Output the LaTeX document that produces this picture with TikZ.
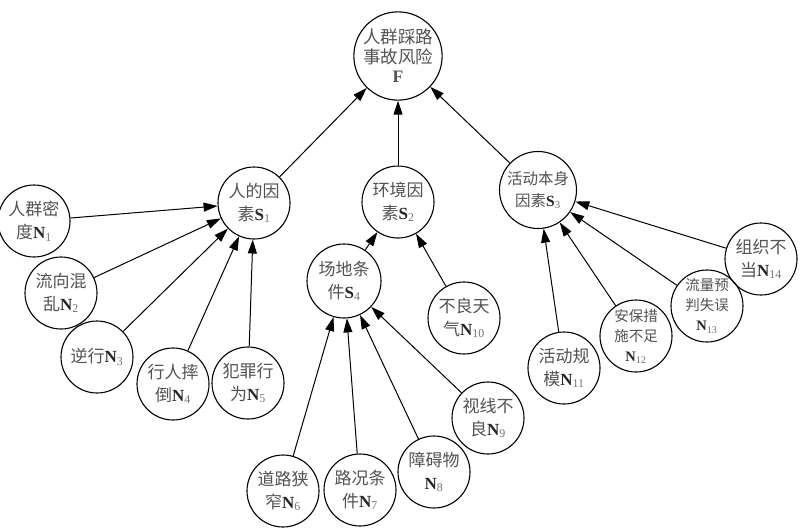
\documentclass[tikz,border=0pt]{standalone}
\usepackage{fontspec}
\setmainfont{Noto Sans CJK SC}
\newfontfamily\latb{Liberation Serif}
\usetikzlibrary{arrows.meta}
\newcommand\ix[2]{{\latb\bfseries\color{black!85}#1}\textsubscript{\latb\color{black!55}#2}}
\begin{document}
\begin{tikzpicture}[x=1pt,y=-1pt,
  circ/.style={circle,draw,line width=1.1pt,minimum size=72pt,inner sep=0pt,align=center,text=black!68,font=\fontsize{17}{23}\selectfont},
  small/.style={font=\fontsize{14.5}{20}\selectfont},
  arr/.style={-{Triangle[length=14pt,width=9pt]},line width=1pt}]
\useasboundingbox (0,0) rectangle (805,530);
% top
\node[circ,minimum size=80pt,font=\fontsize{17.5}{19.5}\selectfont] (F) at (398,56) {人群踩路\\事故风险\\{\latb\bfseries F}};
% level 1
\node[circ] (S1) at (254,203) {人的因\\素\ix{S}{1}};
\node[circ] (S2) at (398,202) {环境因\\素\ix{S}{2}};
\node[circ,minimum size=77pt,font=\fontsize{15.5}{22}\selectfont] (S3) at (538,190) {活动本身\\因素\ix{S}{3}};
\node[circ,minimum size=74pt] (S4) at (344,281) {场地条\\件\ix{S}{4}};
% leaves
\node[circ] (N1) at (34,221) {人群密\\度\ix{N}{1}};
\node[circ] (N2) at (61,293) {流向混\\乱\ix{N}{2}};
\node[circ] (N3) at (97,357) {逆行\ix{N}{3}};
\node[circ] (N4) at (173,384) {行人摔\\倒\ix{N}{4}};
\node[circ] (N5) at (248,383) {犯罪行\\为\ix{N}{5}};
\node[circ] (N6) at (283,491) {道路狭\\窄\ix{N}{6}};
\node[circ] (N7) at (360,490) {路况条\\件\ix{N}{7}};
\node[circ] (N8) at (434,472) {障碍物\\\ix{N}{8}};
\node[circ] (N9) at (488,418) {视线不\\良\ix{N}{9}};
\node[circ] (N10) at (464,318) {不良天\\气\ix{N}{10}};
\node[circ] (N11) at (564,368) {活动规\\模\ix{N}{11}};
\node[circ,small] (N12) at (636,336) {安保措\\施不足\\\ix{N}{12}};
\node[circ,small] (N13) at (707,306) {流量预\\判失误\\\ix{N}{13}};
\node[circ] (N14) at (761,259) {组织不\\当\ix{N}{14}};
% connectors
\foreach \a/\b in {S1/F,S2/F,S3/F,N1/S1,N2/S1,N3/S1,N4/S1,N5/S1,S4/S2,N10/S2,N6/S4,N7/S4,N8/S4,N9/S4,N11/S3,N12/S3,N13/S3,N14/S3}
  \draw[arr] (\a) -- (\b);
\end{tikzpicture}
\end{document}
